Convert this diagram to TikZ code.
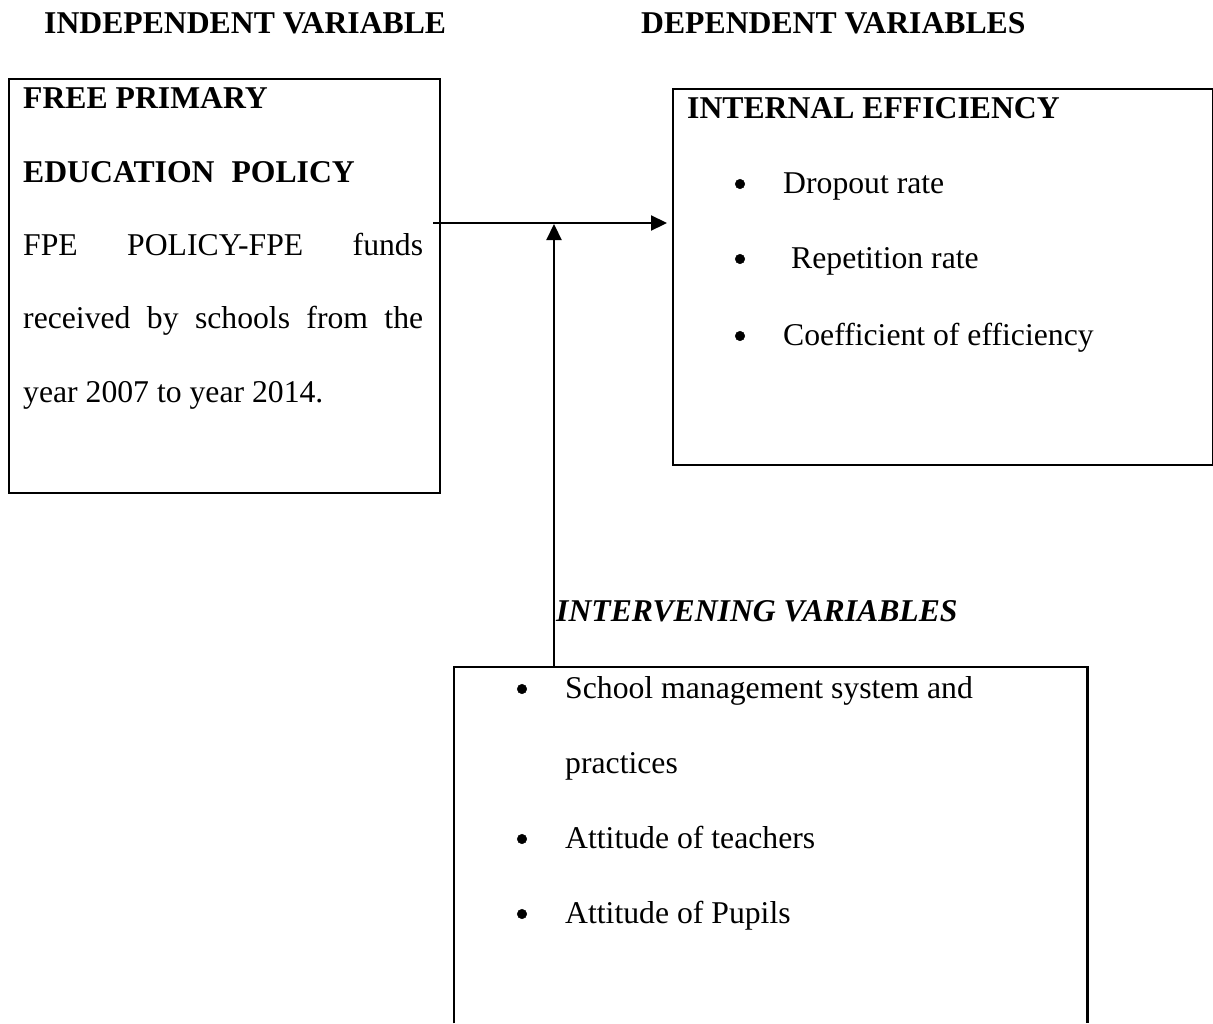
\documentclass[tikz,border=0pt]{standalone}
\usepackage{fontspec}
\setmainfont{Liberation Serif}
\usetikzlibrary{arrows.meta}
\begin{document}
\begin{tikzpicture}[x=1pt,y=-1pt,
  txt/.style={anchor=base west, inner sep=0pt, font=\fontsize{31.7}{31.7}\selectfont},
  hd/.style={txt, font=\fontsize{31.7}{31.7}\selectfont\bfseries},
  bul/.style={circle, fill=black, draw=black, line width=0.5pt, inner sep=0pt, minimum size=9.5pt},
  boxframe/.style={draw, line width=2.2pt, inner sep=0pt, anchor=north west},
  conn/.style={line width=2.2pt, -{Triangle[length=16pt, width=15pt]}}]
\useasboundingbox (0,0) rectangle (1213,1023);
% titles
\node[hd] (tind) at (44,33) {INDEPENDENT VARIABLE};
\node[hd] (tdep) at (641,33) {DEPENDENT VARIABLES};
% left box
\node[boxframe, minimum width=431pt, minimum height=414pt] (indep) at (8,78) {};
\node[hd] (l1) at (23,108) {FREE PRIMARY};
\node[hd] (l2) at (23,182) {EDUCATION\hspace{17pt}POLICY};
\node[txt] (l3) at (23,255) {\hbox to 400pt{FPE\hfill POLICY-FPE\hfill funds}};
\node[txt] (l4) at (23,328) {\hbox to 400pt{received\hfill by\hfill schools\hfill from\hfill the}};
\node[txt] (l5) at (23,402) {year 2007 to year 2014.};
% right box
\node[boxframe, minimum width=540pt, minimum height=376pt] (dep) at (672,88) {};
\node[hd] (r0) at (687,118) {INTERNAL EFFICIENCY};
\node[bul] (rb1) at (740,184) {};
\node[bul] (rb2) at (740,259) {};
\node[bul] (rb3) at (740,336) {};
\node[txt] (r1) at (783,193) {Dropout rate};
\node[txt] (r2) at (791,268) {Repetition rate};
\node[txt] (r3) at (783,345) {Coefficient of efficiency};
% intervening
\node[txt, font=\fontsize{31.7}{31.7}\selectfont\bfseries\itshape] (tint) at (556,621) {INTERVENING VARIABLES};
\node[inner sep=0pt, anchor=north west, minimum width=633pt, minimum height=356pt] (interv) at (454,667) {};
\draw[line width=2.2pt] (interv.south west) -- (interv.north west) -- (interv.north east) -- (interv.south east);
\node[bul] (bb1) at (522,689) {};
\node[bul] (bb2) at (522,839) {};
\node[bul] (bb3) at (522,914) {};
\node[txt] (b1) at (565,698) {School management system and};
\node[txt] (b2) at (565,773) {practices};
\node[txt] (b3) at (565,848) {Attitude of teachers};
\node[txt] (b4) at (565,923) {Attitude of Pupils};
% connectors
\coordinate (hs) at (433,223);
\coordinate (he) at (667,223);
\draw[conn] (hs) -- (he);
\coordinate (vt) at (554,224);
\draw[conn] (vt |- interv.north) -- (vt);
\end{tikzpicture}
\end{document}
